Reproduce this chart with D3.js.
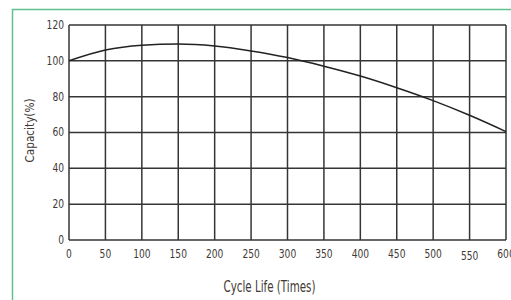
<!DOCTYPE html>
<html>
<head>
<meta charset="utf-8">
<script src="https://cdn.jsdelivr.net/npm/d3@7"></script>
<style>
  body { margin: 0; background: #fff; }
  svg text { font-family: "DejaVu Sans Condensed", "Liberation Sans Narrow", sans-serif; font-stretch: condensed; fill: #3f3a36; }
</style>
</head>
<body>
<svg id="chart" width="511" height="300"></svg>
<script>
// cycle life (times) vs capacity (%)
var cycles = [0, 50, 100, 150, 200, 250, 300, 350, 400, 450, 500, 550, 600];
var capacity = [100, 106, 108.7, 109.4, 108.3, 105.5, 101.8, 97, 91.5, 85, 77.8, 69.6, 60.5];
var xTicks = [0, 50, 100, 150, 200, 250, 300, 350, 400, 450, 500, 550, 600];
var yTicks = [0, 20, 40, 60, 80, 100, 120];

var svg = d3.select("#chart");
var margin = {top: 25, left: 69, right: 5, bottom: 60};
var width = 511 - margin.left - margin.right,
    height = 300 - margin.top - margin.bottom;

// green frame
svg.append("path")
    .attr("d", "M12.5,305 L12.5,9.5 L520,9.5")
    .attr("fill", "none")
    .attr("stroke", "#5fc28e")
    .attr("stroke-width", 1.5);

var x = d3.scaleLinear().domain([0, 600]).range([0, width]);
var y = d3.scaleLinear().domain([0, 120]).range([height, 0]);

var g = svg.append("g")
    .attr("transform", "translate(" + margin.left + "," + margin.top + ")");

// grid
g.selectAll(".vgrid").data(xTicks)
  .enter().append("line")
    .attr("class", "vgrid")
    .attr("x1", function(d){ return x(d); })
    .attr("x2", function(d){ return x(d); })
    .attr("y1", 0).attr("y2", height)
    .attr("stroke", "#353535")
    .attr("stroke-width", 1.5);
g.selectAll(".hgrid").data(yTicks)
  .enter().append("line")
    .attr("class", "hgrid")
    .attr("y1", function(d){ return y(d); })
    .attr("y2", function(d){ return y(d); })
    .attr("x1", 0).attr("x2", width)
    .attr("stroke", "#353535")
    .attr("stroke-width", 1.5);

// tick labels (narrow glyphs)
function digitLen(d){ return String(d).length * 5.8; }
g.selectAll(".xlbl").data(xTicks)
  .enter().append("text")
    .attr("class", "xlbl")
    .attr("x", function(d){ return x(d); })
    .attr("y", function(d){ return height + (d == 550 ? 20 : 18); })
    .attr("text-anchor", "middle")
    .attr("font-size", 12)
    .attr("textLength", digitLen)
    .attr("lengthAdjust", "spacingAndGlyphs")
    .text(function(d){ return d; });
g.selectAll(".ylbl").data(yTicks)
  .enter().append("text")
    .attr("class", "ylbl")
    .attr("x", -5)
    .attr("y", function(d){ return y(d); })
    .attr("dy", "0.32em")
    .attr("text-anchor", "end")
    .attr("font-size", 12)
    .attr("textLength", digitLen)
    .attr("lengthAdjust", "spacingAndGlyphs")
    .text(function(d){ return d; });

// axis titles
g.append("text")
    .attr("x", x(300) - 18)
    .attr("y", height + 52)
    .attr("text-anchor", "middle")
    .attr("font-size", 15)
    .attr("textLength", 92)
    .attr("lengthAdjust", "spacingAndGlyphs")
    .text("Cycle Life (Times)");
g.append("text")
    .attr("transform", "translate(-35," + (y(60) - 2) + ") rotate(-90)")
    .attr("text-anchor", "middle")
    .attr("font-size", 13)
    .attr("textLength", 64)
    .attr("lengthAdjust", "spacingAndGlyphs")
    .text("Capacity(%)");

// curve
var line = d3.line()
    .x(function(d, i){ return x(cycles[i]); })
    .y(function(d){ return y(d); })
    .curve(d3.curveMonotoneX);
g.append("path")
    .attr("d", line(capacity))
    .attr("fill", "none")
    .attr("stroke", "#222")
    .attr("stroke-width", 1.5);
</script>
</body>
</html>
